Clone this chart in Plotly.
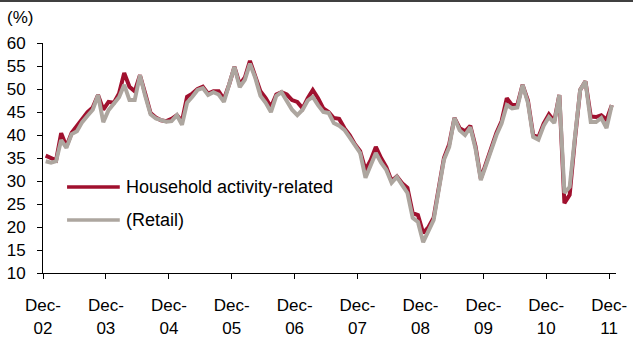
import pandas as pd
import plotly.graph_objects as go

# Monthly diffusion index, Dec-2002 .. Dec-2011 (109 months)
months = pd.date_range("2002-12-01", periods=109, freq="MS")

household = [
    35.5, 35.0, 34.5, 40.4, 37.5, 40.5, 42.0, 43.7, 45.0, 46.0, 48.7, 45.5,   # Dec-02..Nov-03
    47.2, 47.0, 49.0, 53.5, 50.5, 49.5, 53.0, 49.0, 44.8, 43.8, 43.2, 43.0,   # Dec-03..Nov-04
    43.5, 44.3, 43.0, 48.3, 49.0, 50.0, 50.5, 49.0, 49.5, 49.5, 47.8, 51.0,   # Dec-04..Nov-05
    54.8, 51.0, 52.5, 56.1, 52.5, 49.5, 48.0, 46.1, 48.8, 49.3, 48.8, 47.6,   # Dec-05..Nov-06
    47.2, 45.8, 48.0, 49.8, 48.0, 45.8, 45.0, 43.7, 43.5, 41.5, 40.0, 38.0,   # Dec-06..Nov-07
    36.5, 32.4, 34.5, 37.4, 35.0, 33.0, 30.0, 31.0, 29.5, 28.5, 23.0, 22.6,   # Dec-07..Nov-08
    18.7, 20.0, 22.0, 28.5, 35.0, 38.0, 43.7, 41.5, 40.8, 42.0, 37.5, 30.5,   # Dec-08..Nov-09
    33.8, 37.0, 40.5, 43.0, 48.0, 46.5, 46.5, 50.9, 47.5, 40.0, 39.5, 42.5,   # Dec-09..Nov-10
    44.5, 43.0, 48.7, 25.2, 27.0, 39.0, 49.8, 51.7, 44.0, 43.9, 44.3, 43.3,   # Dec-10..Nov-11
    46.5,                                                                     # Dec-11
]

retail = [
    34.3, 34.0, 34.3, 38.9, 37.2, 40.2, 40.8, 42.8, 44.2, 45.5, 48.7, 42.8,
    45.4, 47.0, 48.2, 50.9, 47.6, 47.6, 53.0, 48.5, 44.5, 43.6, 43.2, 42.9,
    43.0, 44.3, 42.2, 47.0, 48.3, 49.8, 50.2, 48.7, 49.3, 48.8, 47.2, 51.0,
    54.8, 50.4, 52.0, 55.5, 52.5, 48.5, 47.0, 45.0, 48.5, 49.3, 47.5, 45.5,
    44.3, 45.5, 47.5, 48.3, 46.5, 45.0, 44.8, 42.6, 42.0, 41.1, 39.5, 37.8,
    36.1, 30.7, 33.5, 36.1, 34.0, 32.4, 29.6, 30.9, 29.1, 27.4, 22.0, 21.1,
    16.7, 19.0, 21.5, 28.0, 34.6, 37.4, 43.7, 41.0, 40.0, 41.7, 37.0, 30.2,
    33.5, 36.5, 40.0, 42.5, 46.5, 45.8, 46.0, 50.9, 47.0, 39.6, 39.0, 42.0,
    43.9, 42.6, 48.7, 27.4, 28.7, 39.5, 49.8, 51.7, 42.8, 42.8, 43.7, 41.5,
    46.5,
]

series_names = ["Household activity-related", "(Retail)"]
series_colors = ["#A0102E", "#ADA69F"]

tick_dates = pd.date_range("2002-12-01", "2011-12-01", freq="12MS")
tick_labels = [f"Dec-<br>{d:%y}" for d in tick_dates]

FONT = "Liberation Sans, Arial, sans-serif"

fig = go.Figure()
for name, values, color in zip(series_names, [household, retail], series_colors):
    fig.add_trace(go.Scatter(
        x=months, y=values, name=name, mode="lines",
        xperiod="M1", xperiodalignment="middle",
        line=dict(color=color, width=4), showlegend=False,
    ))

# hand-drawn legend block inside the plot area
legend_rows = [0.374, 0.230]
for name, color, yy in zip(series_names, series_colors, legend_rows):
    fig.add_shape(type="line", xref="paper", yref="paper",
                  x0=0.042, x1=0.134, y0=yy, y1=yy,
                  line=dict(color=color, width=3.5))
    fig.add_annotation(text=name, xref="paper", yref="paper",
                       x=0.141, y=yy, xanchor="left", yanchor="middle",
                       showarrow=False, font=dict(size=18, color="#000"))

# unit label and the rule across the top
fig.add_annotation(text="(%)", xref="paper", yref="paper", x=-0.066, y=1.113,
                   xanchor="left", yanchor="middle", showarrow=False,
                   font=dict(size=17, color="#000"))
fig.add_shape(type="line", xref="paper", yref="paper",
              x0=-43 / 573, x1=1 + 17 / 573, y0=1 + 42 / 230, y1=1 + 42 / 230,
              line=dict(color="#000", width=1.5))

fig.update_layout(
    width=633, height=337,
    margin=dict(l=43, r=17, t=43, b=64, autoexpand=False),
    paper_bgcolor="white", plot_bgcolor="white",
    font=dict(family=FONT, size=17, color="#000"),
    xaxis=dict(
        type="date", range=["2002-12-01", "2012-01-10"],
        tickvals=tick_dates, ticktext=tick_labels,
        showline=True, linecolor="#000", linewidth=1,
        ticks="outside", ticklen=5, tickcolor="#000",
        showgrid=False, zeroline=False, ticklabelstandoff=12,
        automargin=False,
    ),
    yaxis=dict(
        range=[10, 60], tickvals=list(range(10, 61, 5)),
        showline=True, linecolor="#000", linewidth=1,
        ticks="outside", ticklen=5, tickcolor="#000",
        showgrid=False, zeroline=False, ticklabelstandoff=8,
        automargin=False,
    ),
)

fig.write_html("out.html")
